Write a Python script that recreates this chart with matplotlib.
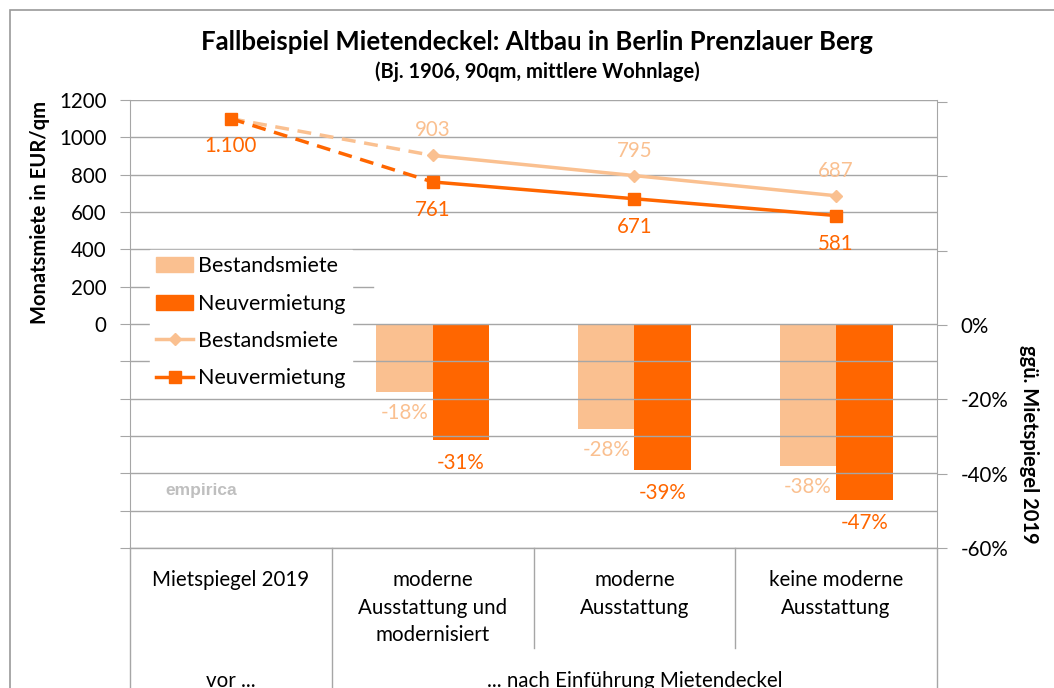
import matplotlib.pyplot as plt
import matplotlib.transforms as mtransforms
from matplotlib.lines import Line2D
from matplotlib.patches import Patch, Rectangle
import numpy as np

plt.rcParams['font.family'] = ['Lato', 'DejaVu Sans']

# data
categories = ["Mietspiegel 2019", "moderne\nAusstattung und\nmodernisiert",
              "moderne\nAusstattung", "keine moderne\nAusstattung"]
groups = ["vor ...", "... nach Einführung Mietendeckel"]
miete_bestand = [1100, 903, 795, 687]
miete_neu = [1100, 761, 671, 581]
pct_bestand = [np.nan, -0.18, -0.28, -0.38]
pct_neu = [np.nan, -0.31, -0.39, -0.47]

c_light = '#FAC090'
c_dark = '#FF6600'
c_grid = '#A6A6A6'
fs = 14.8

fig = plt.figure(figsize=(10.54, 6.88), dpi=100)
ax = fig.add_axes([130/1054, 1-548/688, 807/1054, 448/688])
ax2 = ax.twinx()

x = np.arange(len(categories))
ax.set_xlim(-0.5, 3.5)
ax.set_ylim(-1190, 1200)
ax2.set_ylim(-0.6, 0.605)

# gridlines (left axis steps), the 200 line is cut short in the original
for v in range(-1200, 1201, 200):
    if v == 200:
        ax.axhline(v, xmax=(373-130)/807, color=c_grid, lw=1, zorder=0)
    else:
        ax.axhline(v, color=c_grid, lw=1, zorder=0)

# bars on secondary axis
w = 0.28
ax2.bar(x - w/2, pct_bestand, w, color=c_light, zorder=2)
ax2.bar(x + w/2, pct_neu, w, color=c_dark, zorder=2)
for i in range(1, 4):
    ax2.annotate(f"{pct_bestand[i]*100:.0f}%", (x[i] - w/2, pct_bestand[i]),
                 xytext=(0, -21), textcoords='offset pixels',
                 ha='center', va='center', color=c_light, fontsize=fs)
    ax2.annotate(f"{pct_neu[i]*100:.0f}%", (x[i] + w/2, pct_neu[i]),
                 xytext=(0, -23), textcoords='offset pixels',
                 ha='center', va='center', color=c_dark, fontsize=fs)

# lines on primary axis, drawn above bars
ax.set_zorder(ax2.get_zorder() + 1)
ax.patch.set_visible(False)
ax.plot(x[:2], miete_bestand[:2], color=c_light, lw=2.5, ls=(0, (4, 2.5)), zorder=3)
ax.plot(x[1:], miete_bestand[1:], color=c_light, lw=2.5, zorder=3)
ax.plot(x, miete_bestand, ls='none', marker='D', ms=6, color=c_light, zorder=4)
ax.plot(x[:2], miete_neu[:2], color=c_dark, lw=2.5, ls=(0, (4, 2.5)), zorder=3)
ax.plot(x[1:], miete_neu[1:], color=c_dark, lw=2.5, zorder=3)
ax.plot(x, miete_neu, ls='none', marker='s', ms=8, color=c_dark, zorder=5)

ax.annotate("1.100", (x[0], miete_neu[0]), xytext=(0, -27), textcoords='offset pixels',
            ha='center', va='center', color=c_dark, fontsize=fs)
for i in range(1, 4):
    ax.annotate(f"{miete_bestand[i]}", (x[i], miete_bestand[i]), xytext=(0, 25),
                textcoords='offset pixels', ha='center', va='center', color=c_light, fontsize=fs)
    ax.annotate(f"{miete_neu[i]}", (x[i], miete_neu[i]), xytext=(0, -28),
                textcoords='offset pixels', ha='center', va='center', color=c_dark, fontsize=fs)

# axes styling
ax.set_yticks(range(-1200, 1201, 200))
ax.set_yticklabels([str(v) if v >= 0 else "" for v in range(-1200, 1201, 200)], fontsize=fs)
ax.tick_params(axis='y', length=7, color=c_grid, pad=10)
ax.set_xticks([])
rt = [-0.6, -0.4, -0.2, 0, 0.2, 0.4, 0.6]
ax2.set_yticks(rt)
ax2.set_yticklabels([f"{v*100:.0f}%" if v <= 0 else "" for v in rt], fontsize=fs)
ax2.tick_params(axis='y', length=7, color=c_grid, pad=10)
for a in (ax, ax2):
    for s in a.spines.values():
        s.set_visible(False)
ax.spines['left'].set_visible(True)
ax.spines['left'].set_color(c_grid)
ax2.spines['right'].set_visible(True)
ax2.spines['right'].set_color(c_grid)

ax.set_ylabel("Monatsmiete in EUR/qm", fontsize=14.5, fontweight='bold')
ax.yaxis.set_label_coords(-80/807, (548-212)/448)
ax2.set_ylabel("ggü. Mietspiegel 2019", fontsize=14.5, fontweight='bold', rotation=-90, va='bottom')
ax2.yaxis.set_label_coords(1+82/807, (548-444)/448)

# legend
handles = [Patch(color=c_light), Patch(color=c_dark),
           Line2D([], [], color=c_light, lw=2.5, marker='D', ms=6),
           Line2D([], [], color=c_dark, lw=2.5, marker='s', ms=8)]
labels = ["Bestandsmiete", "Neuvermietung", "Bestandsmiete", "Neuvermietung"]
leg = ax.legend(handles, labels, loc='upper left', bbox_to_anchor=(20/807, (548-250)/448),
                frameon=True, fancybox=False, edgecolor='white', framealpha=1, fontsize=15.5,
                handlelength=1.7, handletextpad=0.25, labelspacing=0.8, borderpad=0.3,
                borderaxespad=0)
leg.set_zorder(10)

ax.text(35/807, (548-491)/448, "empirica", transform=ax.transAxes, fontsize=12.5,
        fontweight='bold', color='#BFBFBF', family='Liberation Sans', va='center')

# category table below the plot
tr = mtransforms.blended_transform_factory(ax.transData, fig.transFigure)
y_top = 1 - 548/688
ax.add_line(Line2D([-0.5, 3.5], [y_top, y_top], transform=tr, color=c_grid, lw=1, clip_on=False))
for xb, yb in [(-0.5, 0), (0.5, 0), (1.5, 1-648/688), (2.5, 1-648/688), (3.5, 0)]:
    ax.add_line(Line2D([xb, xb], [y_top, yb], transform=tr, color=c_grid, lw=1, clip_on=False))
for i, c in enumerate(categories):
    ax.text(x[i], 1-570/688, c, transform=tr, ha='center', va='top', fontsize=fs,
            linespacing=1.48)
ax.text(0, 1-681/688, groups[0], transform=tr, ha='center', va='center', fontsize=fs)
ax.text(2, 1-681/688, groups[1], transform=tr, ha='center', va='center', fontsize=fs)

# titles
fig.text(537/1054, 1-42/688, "Fallbeispiel Mietendeckel: Altbau in Berlin Prenzlauer Berg",
         ha='center', va='center', fontsize=18.5, fontweight='bold')
fig.text(537/1054, 1-72/688, "(Bj. 1906, 90qm, mittlere Wohnlage)",
         ha='center', va='center', fontsize=14.5, fontweight='bold')

# chart border
fig.patches.append(Rectangle((10/1054, -0.1), 1.2, 1-10/688+0.1, transform=fig.transFigure,
                             fill=False, edgecolor='#9A9A9A', lw=1.2))

fig.savefig("out.png", dpi=100)
